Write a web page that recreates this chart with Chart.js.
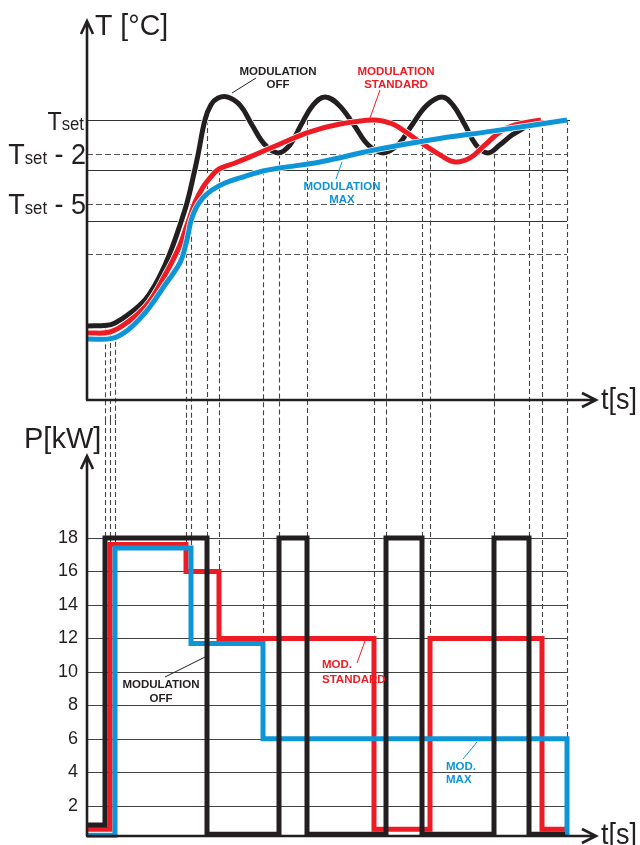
<!DOCTYPE html>
<html>
<head>
<meta charset="utf-8">
<script src="https://cdn.jsdelivr.net/npm/chart.js@4.4.1/dist/chart.umd.min.js"></script>
<style>
  html, body { margin: 0; padding: 0; background: #fff; }
  #wrap { position: relative; width: 640px; height: 845px; overflow: hidden; }
  canvas { position: absolute; left: 0; }
  #cTemp { top: 0; }
  #cPow { top: 420px; }
</style>
</head>
<body>
<div id="wrap">
  <canvas id="cTemp" width="640" height="420"></canvas>
  <canvas id="cPow" width="640" height="425"></canvas>
</div>
<script>
// time axis in arbitrary units, temperatures relative to Tset [°C]
const timeMax = 510;

const offTime = [0, 20, 28, 41, 58, 68, 78, 85, 93, 100, 106, 111, 118, 124, 131, 140, 153, 165, 178, 191, 203, 214, 226, 238, 252, 267, 281, 296, 311, 325, 340, 355, 366, 378, 389, 401, 413, 425, 438, 443];
const offTemp = [-12.26, -12.22, -12.08, -11.6, -10.71, -9.82, -8.63, -7.62, -6.25, -4.94, -3.45, -2.08, 0, 0.9, 1.3, 1.37, 0.88, -0.3, -1.48, -1.96, -1.48, -0.3, 0.88, 1.37, 0.88, -0.3, -1.48, -1.96, -1.48, -0.3, 0.88, 1.37, 0.88, -0.3, -1.48, -1.96, -1.48, -0.9, -0.42, -0.15];

const stdTime = [0, 23, 41, 58, 68, 78, 85, 93, 98, 103, 108, 116, 123, 132, 148, 163, 193, 223, 253, 287, 303, 313, 333, 353, 368, 383, 398, 413, 428, 454];
const stdTemp = [-12.68, -12.62, -12.02, -11.13, -10.3, -9.23, -8.45, -7.44, -6.6, -5.75, -4.9, -4.0, -3.45, -2.92, -2.56, -2.20, -1.43, -0.71, -0.24, 0, -0.18, -0.48, -1.31, -2.08, -2.50, -2.26, -1.49, -0.71, -0.30, 0];

const maxTime = [0, 25, 41, 58, 68, 78, 93, 98, 101, 104, 109, 116, 125, 138, 153, 176, 193, 233, 287, 343, 407, 480];
const maxTemp = [-13.04, -13.0, -12.5, -11.49, -10.7, -9.82, -8.5, -7.6, -6.85, -6.0, -5.24, -4.64, -4.17, -3.75, -3.45, -3.04, -2.86, -2.50, -1.79, -1.19, -0.65, 0];

// power steps [kW], value holds until the next time
const offPowTime = [0, 18, 120, 192, 220, 299, 335, 407, 442, 478];
const offPow = [0.85, 18, 0.3, 18, 0.3, 18, 0.3, 18, 0.3, 0.3];
const stdPowTime = [0, 23, 99, 132, 287, 343, 455, 478];
const stdPow = [0.6, 17.6, 16, 12, 0.6, 12, 0.6, 0.6];
const maxPowTime = [0, 28, 104, 176, 480];
const maxPow = [0.25, 17.4, 11.7, 6, 0.25];

// reference levels
const tempLevels = [0, -2, -3, -5, -6, -8];
const tempLevelDashed = [false, true, false, true, false, true];
const powerTicks = [2, 4, 6, 8, 10, 12, 14, 16, 18];

// dashed guide lines: time, temperature where they start, power where they end
const markTime = [18, 23, 28, 99, 104, 120, 132, 176, 192, 220, 287, 299, 335, 343, 407, 442, 455, 480];
const markTemp = [-12.4, -12.8, -13.2, -6, -6, 0, -3, -3, -2, 0, 0, -2, 0, -1.7, -2, -0.3, 0, 0];
const markPow = [18, 17.6, 17.4, 17.6, 17.4, 18, 16, 11.7, 18, 18, 12, 18, 18, 12, 18, 18, 12, 6];

const BLACK = "#231f20";
const RED = "#ed1c24";
const BLUE = "#0e95d7";
const FONT = '"Liberation Sans", Arial, sans-serif';

const pts = (xs, ys) => xs.map((x, i) => ({ x: x, y: ys[i] }));

function txt(ctx, s, x, y, size, color, align, sx, weight) {
    ctx.save();
    ctx.font = (weight || "") + " " + size + "px " + FONT;
    ctx.fillStyle = color;
    ctx.textAlign = align || "left";
    ctx.textBaseline = "alphabetic";
    ctx.translate(x, y);
    ctx.scale(sx || 1, 1);
    ctx.fillText(s, 0, 0);
    ctx.restore();
}

function line(ctx, x1, y1, x2, y2, color, w, dash) {
    ctx.save();
    ctx.strokeStyle = color;
    ctx.lineWidth = w;
    ctx.setLineDash(dash || []);
    ctx.beginPath();
    ctx.moveTo(x1, y1);
    ctx.lineTo(x2, y2);
    ctx.stroke();
    ctx.restore();
}

function arrowAxes(ctx, area) {
    ctx.save();
    ctx.strokeStyle = BLACK;
    ctx.lineWidth = 2.6;
    ctx.lineJoin = "miter";
    ctx.beginPath();
    ctx.moveTo(area.left, area.bottom);
    ctx.lineTo(area.left, area.top + 1);
    ctx.moveTo(area.left - 6, area.top + 14);
    ctx.lineTo(area.left, area.top + 1);
    ctx.lineTo(area.left + 6, area.top + 14);
    ctx.moveTo(area.left - 1, area.bottom);
    ctx.lineTo(area.right - 1, area.bottom);
    ctx.moveTo(area.right - 15, area.bottom - 7);
    ctx.lineTo(area.right - 1, area.bottom);
    ctx.lineTo(area.right - 15, area.bottom + 7);
    ctx.stroke();
    ctx.restore();
}

function note(ctx, lines, x, bases, color, align, leader) {
    lines.forEach((s, i) => txt(ctx, s, x, bases[i], 11.5, color, align, 1, "bold"));
    line(ctx, leader[0], leader[1], leader[2], leader[3], color, 1);
}

function tsetLabel(ctx, suffix, right, base, big) {
    const sx = 0.93;
    ctx.save();
    ctx.font = big + "px " + FONT;
    const wT = ctx.measureText("T").width;
    const wSuf = suffix ? ctx.measureText(suffix).width : 0;
    ctx.font = "18px " + FONT;
    const wS = ctx.measureText("set").width;
    ctx.restore();
    let x = right - (wT + wS + wSuf) * sx;
    txt(ctx, "T", x, base, big, BLACK, "left", sx);
    x += wT * sx;
    txt(ctx, "set", x, base, 18, BLACK, "left", sx);
    x += wS * sx;
    if (suffix) txt(ctx, suffix, x, base, big, BLACK, "left", sx);
}

const tempDecor = {
    id: "tempDecor",
    beforeDatasetsDraw(chart) {
        const ctx = chart.ctx, xs = chart.scales.x, ys = chart.scales.y;
        const x0 = xs.getPixelForValue(0);
        tempLevels.forEach((v, i) => {
            const py = Math.round(ys.getPixelForValue(v)) + 0.5;
            const end = xs.getPixelForValue(v === 0 ? 483 : 480);
            line(ctx, x0, py, end, py, tempLevelDashed[i] ? "#555" : "#333", 1.1,
                tempLevelDashed[i] ? [6, 3] : []);
        });
        markTime.forEach((t, i) => {
            const px = Math.round(xs.getPixelForValue(t)) + 0.5;
            line(ctx, px, ys.getPixelForValue(markTemp[i]), px, chart.height, "#444", 1.1, [5, 3]);
        });
    },
    afterDatasetsDraw(chart) {
        const ctx = chart.ctx;
        arrowAxes(ctx, chart.chartArea);
        txt(ctx, "T [°C]", 95, 35, 30, BLACK, "left", 0.95);
        txt(ctx, "t[s]", 601, 409, 30, BLACK, "left", 0.9);
        tsetLabel(ctx, "", 84, 130, 25);
        tsetLabel(ctx, " - 2", 86, 164, 29);
        tsetLabel(ctx, " - 5", 86, 214, 29);
        note(ctx, ["MODULATION", "OFF"], 278, [75, 88], BLACK, "center", [232, 93, 256, 78]);
        note(ctx, ["MODULATION", "STANDARD"], 396, [75, 88], RED, "center", [370, 118, 380, 90]);
        note(ctx, ["MODULATION", "MAX"], 342, [190, 203], BLUE, "center", [342, 162, 336, 179]);
    }
};

const powDecor = {
    id: "powDecor",
    beforeDatasetsDraw(chart) {
        const ctx = chart.ctx, xs = chart.scales.x, ys = chart.scales.y;
        const x0 = xs.getPixelForValue(0), x1 = xs.getPixelForValue(480);
        powerTicks.forEach(v => {
            const py = Math.round(ys.getPixelForValue(v)) + 0.5;
            line(ctx, x0, py, x1, py, "#444", 1.1);
        });
        markTime.forEach((t, i) => {
            const px = Math.round(xs.getPixelForValue(t)) + 0.5;
            line(ctx, px, 0, px, ys.getPixelForValue(markPow[i]), "#444", 1.1, [5, 3]);
        });
    },
    afterDatasetsDraw(chart) {
        const ctx = chart.ctx;
        arrowAxes(ctx, chart.chartArea);
        txt(ctx, "P[kW]", 24, 28, 29, BLACK, "left", 1);
        txt(ctx, "t[s]", 601, 424, 30, BLACK, "left", 0.9);
        note(ctx, ["MODULATION", "OFF"], 161, [268, 282], BLACK, "center", [165, 257, 205, 237]);
        note(ctx, ["MOD.", "STANDARD"], 322, [248, 263], RED, "left", [357, 243, 365, 221]);
        note(ctx, ["MOD.", "MAX"], 446, [350, 363], BLUE, "left", [463, 339, 477, 322]);
    }
};

// temperature curves get a thin white halo underneath, like the drawing
function curve(data, color, halo) {
    return {
        data: data,
        borderColor: halo ? "#ffffff" : color,
        borderWidth: halo ? 6.5 : 5,
        pointRadius: 0,
        fill: false,
        tension: 0.4,
        clip: false
    };
}

function steps(data, color) {
    return {
        data: data,
        borderColor: color,
        borderWidth: 5,
        pointRadius: 0,
        fill: false,
        stepped: true,
        borderJoinStyle: "miter",
        borderCapStyle: "butt",
        clip: false
    };
}

const common = {
    responsive: false,
    animation: false,
    events: [],
    plugins: { legend: { display: false }, tooltip: { enabled: false } }
};

const maxCurve = pts(maxTime, maxTemp);
const stdCurve = pts(stdTime, stdTemp);
const offCurve = pts(offTime, offTemp);

new Chart(document.getElementById("cTemp"), {
    type: "line",
    data: {
        datasets: [
            curve(maxCurve, BLUE), curve(maxCurve, BLUE, true),
            curve(stdCurve, RED), curve(stdCurve, RED, true),
            curve(offCurve, BLACK), curve(offCurve, BLACK, true)
        ]
    },
    plugins: [tempDecor],
    options: {
        ...common,
        layout: { padding: { left: 87, right: 43, top: 20, bottom: 20 } },
        scales: {
            x: { type: "linear", min: 0, max: timeMax, display: false },
            y: { min: -16.67, max: 5.95, display: false }
        }
    }
});

new Chart(document.getElementById("cPow"), {
    type: "line",
    data: {
        datasets: [
            steps(pts(offPowTime, offPow), BLACK),
            steps(pts(maxPowTime, maxPow), BLUE),
            steps(pts(stdPowTime, stdPow), RED)
        ]
    },
    plugins: [powDecor],
    options: {
        ...common,
        layout: { padding: { left: 0, right: 43, top: 35, bottom: 9 } },
        scales: {
            x: { type: "linear", min: 0, max: timeMax, display: false },
            y: {
                min: 0.2,
                max: 22.95,
                afterBuildTicks: s => { s.ticks = powerTicks.map(v => ({ value: v })); },
                afterFit: s => { s.width = 87; s.paddingTop = 0; s.paddingBottom = 0; },
                grid: { display: false, drawTicks: false },
                border: { display: false },
                ticks: {
                    padding: 9,
                    color: BLACK,
                    font: { family: "Liberation Sans", size: 18 }
                }
            }
        }
    }
});
</script>
</body>
</html>
